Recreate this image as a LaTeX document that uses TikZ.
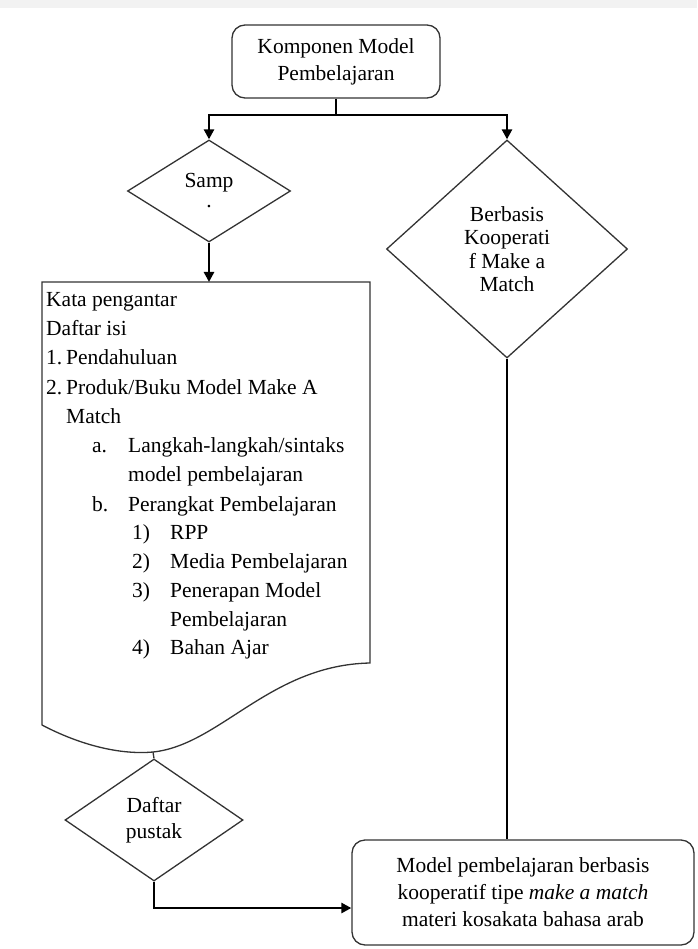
\documentclass[tikz,border=0pt]{standalone}
\usepackage{fontspec}
\setmainfont{Liberation Serif}
\usetikzlibrary{shapes.geometric,arrows.meta}

\begin{document}
\begin{tikzpicture}[x=1pt, y=-1pt,
  shapeline/.style={draw=black!80, line width=1.3pt},
  roundbox/.style={shapeline, rounded corners=13pt, align=center, inner sep=0pt},
  choice/.style={shapeline, diamond, align=center, inner sep=0pt},
  conn/.style={black, line width=2.8pt},
  arr/.style={conn, -{Triangle[length=10pt, width=10pt]}},
  item/.style={font=\fontsize{21.5}{29}\selectfont, inner sep=0pt, anchor=base west}]
\useasboundingbox (0,0) rectangle (697,949);
\fill[black!5] (0,0) rectangle (697,8);
% ---- top: komponen ----
\node[roundbox, minimum width=208pt, minimum height=73pt,
      font=\fontsize{21.5}{27}\selectfont] (komp) at (336,61.5)
  {Komponen Model\\Pembelajaran};
\node[choice, minimum width=163pt, minimum height=102pt,
      font=\fontsize{21.5}{20}\selectfont] (samp) at (209,191) {Samp\\.};
\node[choice, minimum width=241pt, minimum height=218pt,
      font=\fontsize{21.5}{23.5}\selectfont] (koop) at (507,249)
  {Berbasis\\Kooperati\\f Make a\\Match};
\coordinate (split) at (336,115);
\draw[conn] (komp.south) -- (split);
\draw[arr] (split) -| (samp.north);
\draw[arr] (split) -| (koop.north);
% ---- left: isi buku ----
\draw[shapeline] (42,282) -- (370,282) -- (370,663)
  .. controls (270,665) and (220,745) .. (153,752)
  .. controls (120,755) and (80,745) .. (42,725) -- cycle;
\coordinate (docTop) at (209,282);
\coordinate (docDip) at (153,752);
\draw[arr] (samp.south) -- (docTop);
\foreach \i/\xx/\yy/\txt in {1/46/306/Kata pengantar, 2/46/335/Daftar isi,
    3/46/364/1., 4/66/364/Pendahuluan,
    5/46/394/2., 6/66/394/{Produk/Buku Model Make A}, 7/66/423/Match,
    8/92/452/a., 9/128/452/{Langkah-langkah/sintaks},
    10/128/481/model pembelajaran,
    11/92/511/b., 12/128/511/Perangkat Pembelajaran,
    13/132/539/1), 14/170/539/RPP,
    15/132/568/2), 16/170/568/Media Pembelajaran,
    17/132/597/3), 18/170/597/Penerapan Model, 19/170/626/Pembelajaran,
    20/132/654/4), 21/170/654/Bahan Ajar} {
  \node[item] (ln\i) at (\xx,\yy) {\txt};
}
% ---- bottom ----
\node[choice, minimum width=178pt, minimum height=122pt,
      font=\fontsize{21.5}{26}\selectfont] (pustak) at (154,820)
  {Daftar\\pustak};
\node[roundbox, minimum width=342pt, minimum height=105pt,
      font=\fontsize{21.5}{27}\selectfont] (hasil) at (523,892.5)
  {Model pembelajaran berbasis\\kooperatif tipe \textit{make a match}\\materi kosakata bahasa arab};
\draw[shapeline] (docDip) -- (pustak.north);
\draw[arr] (pustak.south) |- (hasil.west |- 0,908);
\draw[conn] (koop.south) -- (koop.south |- hasil.north);
\end{tikzpicture}
\end{document}
